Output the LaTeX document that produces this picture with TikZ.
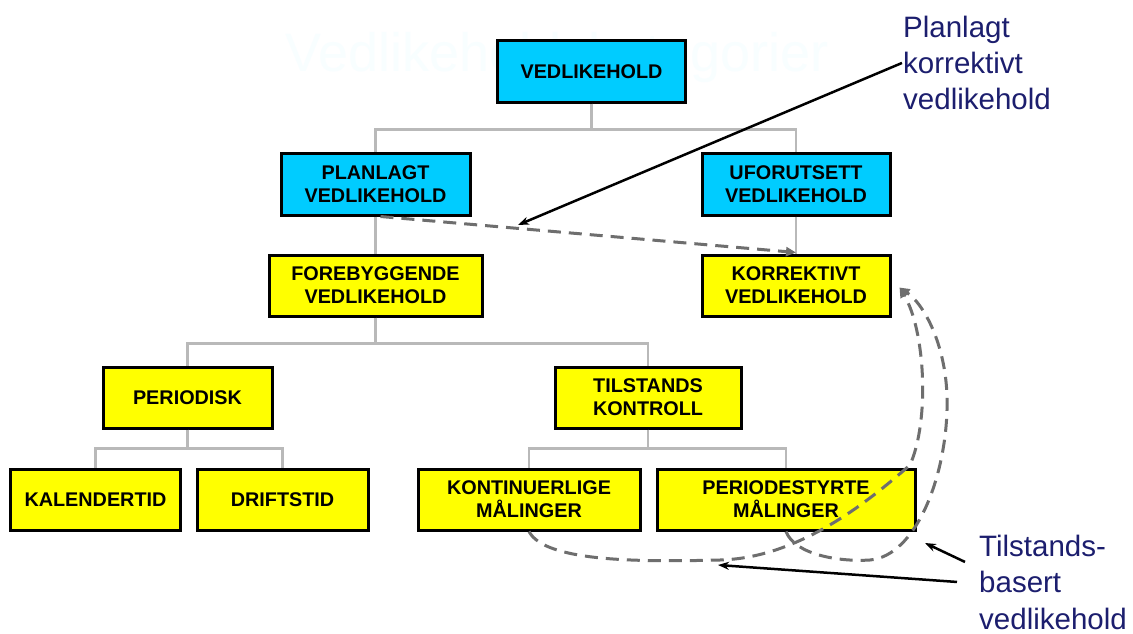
\documentclass[tikz,border=0pt]{standalone}
\usepackage{fontspec}
\setmainfont{Liberation Sans}
\usetikzlibrary{arrows.meta}
\definecolor{cyanbox}{RGB}{0,204,255}
\definecolor{yellowbox}{RGB}{255,255,0}
\definecolor{treegray}{RGB}{185,185,185}
\definecolor{dashgray}{RGB}{110,110,110}
\definecolor{navyblue}{RGB}{28,30,110}
\definecolor{ghost}{RGB}{248,254,255}
\begin{document}
\begin{tikzpicture}[x=1pt,y=-1pt,
  box/.style={draw=black, line width=3pt, inner sep=0pt, align=center,
    font=\fontsize{19.8}{23}\selectfont\bfseries, minimum height=61pt},
  bluebox/.style={box, fill=cyanbox},
  yelbox/.style={box, fill=yellowbox},
  tree/.style={draw=treegray, line width=2.5pt},
  dasharrow/.style={draw=dashgray, line width=3pt, dash pattern=on 13pt off 8pt,
    -{Triangle[length=10pt,width=9pt]}},
  dashcurve/.style={draw=dashgray, line width=3pt, dash pattern=on 13pt off 8pt},
  blackarrow/.style={draw=black, line width=2.5pt, -{Stealth[length=11pt,width=8pt]}},
  lbl/.style={text=navyblue, font=\fontsize{29.5}{36.5}\selectfont, align=left,
    inner sep=0pt, anchor=base west}]
\fill[white] (0,0) rectangle (1133,634);
\useasboundingbox (0,0) rectangle (1133,634);

\node[text=ghost, font=\fontsize{54}{60}\selectfont, anchor=base, inner sep=0pt] (title) at (557,72) {Vedlikeholdskategorier};

% boxes
\node[bluebox, minimum width=188pt] (v) at (591.5,71.5) {VEDLIKEHOLD};
\node[bluebox, minimum width=189pt, minimum height=62pt] (p) at (375.5,184) {PLANLAGT\\VEDLIKEHOLD};
\node[bluebox, minimum width=188pt, minimum height=62pt] (u) at (796,184) {UFORUTSETT\\VEDLIKEHOLD};
\node[yelbox, minimum width=213pt] (f) at (375.5,285.5) {FOREBYGGENDE\\VEDLIKEHOLD};
\node[yelbox, minimum width=188pt] (k) at (796,285.5) {KORREKTIVT\\VEDLIKEHOLD};
\node[yelbox, minimum width=169pt] (per) at (187.5,397.5) {PERIODISK};
\node[yelbox, minimum width=186pt] (t) at (648,397.5) {TILSTANDS\\KONTROLL};
\node[yelbox, minimum width=170pt] (kal) at (95.5,499.5) {KALENDERTID};
\node[yelbox, minimum width=171pt] (dr) at (282.5,499.5) {DRIFTSTID};
\node[yelbox, minimum width=222pt] (kon) at (529,499.5) {KONTINUERLIGE\\MÅLINGER};
\node[yelbox, minimum width=258pt] (pst) at (786,499.5) {PERIODESTYRTE\\MÅLINGER};

% tree connectors
\draw[tree] (v.south) -- ++(0,26) -| (p.north);
\draw[tree] (v.south) -- ++(0,26) -| (u.north);
\draw[tree] (p.south) -- (f.north);
\draw[tree] (u.south) -- (k.north);
\draw[tree] (f.south) -- ++(0,26) -| (per.north);
\draw[tree] (f.south) -- ++(0,26) -| (t.north);
\draw[tree] (per.south) -- ++(0,19) -| (kal.north);
\draw[tree] (per.south) -- ++(0,19) -| (dr.north);
\draw[tree] (t.south) -- ++(0,19) -| (kon.north);
\draw[tree] (t.south) -- ++(0,19) -| (pst.north);

% dashed planned-corrective arrow
\draw[dasharrow] ([xshift=5pt]p.south) -- ([yshift=1pt]k.north);

% dashed curves to KORREKTIVT
\draw[dashcurve, -{Triangle[length=10pt,width=9pt]}] (kon.south) .. controls (545,562) and (640,562) .. (720,560)
  .. controls (800,558) and (870,500) .. (910,465)
  .. controls (930,420) and (925,330) .. ([xshift=8pt,yshift=-2pt]k.east);
\draw[dashcurve, -{Triangle[length=10pt,width=9pt]}] (pst.south) .. controls (795,555) and (840,562) .. (870,560)
  .. controls (915,556) and (945,480) .. (947,410)
  .. controls (949,350) and (925,305) .. ([xshift=8pt,yshift=-2pt]k.east);

% labels
\node[lbl] (lab1) at (903,110) {Planlagt\\korrektivt\\vedlikehold};
\node[lbl] (lab2) at (979,629) {Tilstands-\\basert\\vedlikehold};

\coordinate (c1) at (518,225);
\coordinate (c2) at (925,543);
\coordinate (c3) at (718,565);
\draw[blackarrow] ([xshift=-1pt]lab1.west) -- (c1);
\draw[blackarrow] ([xshift=-14pt,yshift=20pt]lab2.west) -- (c2);
\draw[blackarrow] ([xshift=-22pt]lab2.west) -- (c3);
\end{tikzpicture}
\end{document}
